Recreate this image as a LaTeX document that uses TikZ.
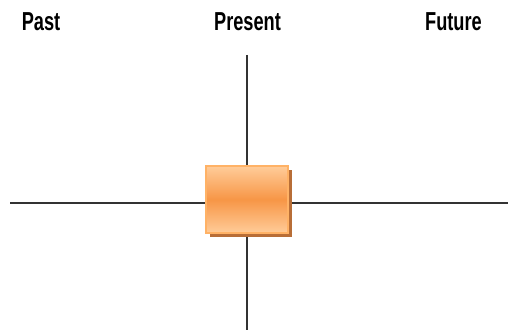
\documentclass[tikz,border=0pt]{standalone}
\usepackage{fontspec}
\setmainfont{Liberation Sans}
\begin{document}
\begin{tikzpicture}[x=1pt,y=1pt,
  axis/.style={line width=1.2pt, draw=black!80},
  title/.style={font=\fontsize{26}{28}\selectfont\bfseries, inner sep=0pt, anchor=base, xscale=0.7},
  orangebox/.style={minimum width=82pt, minimum height=67pt, inner sep=0pt, draw=orange!60!white, line width=1.5pt,
     top color=orange!40!white, bottom color=orange!40!white, middle color={rgb,255:red,247;green,150;blue,70}}]
\useasboundingbox (0,0) rectangle (508,332);
\definecolor{shadowbrown}{RGB}{184,110,55}
\coordinate (left) at (10,129);
\coordinate (right) at (508,129);
\coordinate (top) at (247,277);
\coordinate (bottom) at (247,2);
\draw[axis] (left) -- (right);
\draw[axis] (top) -- (bottom);
\fill[shadowbrown] (210,95) rectangle (292,162);
\node[orangebox] (now) at (247,132.5) {};
\node[title] (past) at (41,301) {Past};
\node[title] (present) at (247.5,301) {Present};
\node[title] (future) at (453.5,301) {Future};
\end{tikzpicture}
\end{document}
